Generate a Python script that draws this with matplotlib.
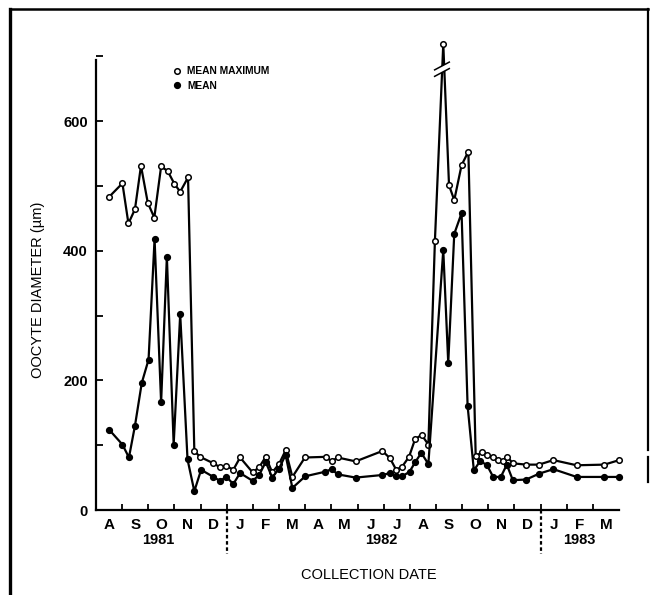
import matplotlib
matplotlib.use("Agg")
import matplotlib.pyplot as plt
from matplotlib.lines import Line2D
import matplotlib.transforms as mtransforms
import numpy as np

plt.rcParams['font.family'] = ['Liberation Sans', 'DejaVu Sans']

# months since 1 Aug 1981
max_dates = [0.50, 1.01, 1.24, 1.49, 1.72, 1.98, 2.23, 2.49, 2.74, 3.00, 3.22, 3.52,
             3.76, 3.98, 4.49, 4.74, 4.99, 5.25, 5.51, 5.99, 6.24, 6.49, 6.74, 7.00,
             7.25, 7.51, 7.99, 8.78, 9.01, 9.24, 9.93, 10.95, 11.24, 11.48, 11.71,
             11.97, 12.20, 12.45, 12.71, 12.96, 13.28, 13.50, 13.70, 13.98, 14.24,
             14.52, 14.75, 14.96, 15.19, 15.38, 15.55, 15.73, 15.94, 16.45, 16.94,
             17.49, 18.38, 19.44, 20.01]
mean_max = [483, 504, 442, 464, 531, 474, 451, 530, 523, 503, 491, 513,
            91, 82, 72, 66, 68, 62, 81, 58, 66, 82, 58, 71,
            92, 51, 81, 82, 75, 81, 75, 91, 80, 62, 67,
            82, 109, 116, 101, 415, 719, 501, 478, 532, 553,
            83, 89, 85, 81, 77, 75, 82, 72, 70, 70,
            77, 69, 70, 77]

mean_dates = [0.50, 1.01, 1.26, 1.49, 1.75, 2.01, 2.24, 2.49, 2.71, 2.97, 3.22, 3.50,
              3.76, 4.02, 4.49, 4.74, 4.99, 5.25, 5.51, 5.99, 6.24, 6.49, 6.74, 7.00,
              7.25, 7.51, 8.00, 8.76, 9.01, 9.24, 9.93, 10.95, 11.24, 11.48, 11.71,
              11.99, 12.21, 12.44, 12.71, 13.28, 13.47, 13.70, 13.98, 14.21,
              14.45, 14.68, 14.94, 15.19, 15.48, 15.71, 15.94, 16.45, 16.94,
              17.49, 18.38, 19.44, 20.01]
mean_vals = [124, 101, 81, 130, 196, 232, 418, 166, 391, 101, 302, 78,
             29, 62, 51, 45, 51, 40, 57, 45, 54, 74, 50, 64,
             85, 34, 52, 59, 63, 55, 50, 54, 57, 52, 52,
             59, 74, 88, 71, 401, 227, 426, 458, 161,
             61, 75, 70, 51, 51, 70, 46, 47, 56,
             63, 51, 51, 51]

month_labels = ['A', 'S', 'O', 'N', 'D', 'J', 'F', 'M', 'A', 'M', 'J', 'J',
                'A', 'S', 'O', 'N', 'D', 'J', 'F', 'M']
years = ['1981', '1982', '1983']
year_pos = [2.37, 10.9, 18.48]
year_breaks = [5, 17]
y_ticks = [0, 200, 400, 600]

W, H = 651, 595
fig = plt.figure(figsize=(W / 100, H / 100), dpi=100)
ax = fig.add_axes([96 / W, 1 - 510 / H, 523 / W, 468 / H])
ax.set_xlim(0, 20)
ax.set_ylim(0, 722)

lw = 1.6
ax.plot(max_dates, mean_max, color='black', lw=lw, marker='o', ms=4,
        mfc='white', mec='black', mew=1.1, clip_on=False, zorder=3,
        label='MEAN MAXIMUM')
ax.plot(mean_dates, mean_vals, color='black', lw=lw, marker='o', ms=4.2,
        mfc='black', mec='black', clip_on=False, zorder=3, label='MEAN')

# axis break marks on the peak
pk = int(np.argmax(mean_max))
bx = max_dates[pk] - 0.05
by = 676
ax.plot([bx - 0.28, bx + 0.28], [by - 2, by + 10], color='white', lw=4, zorder=4, clip_on=False)
ax.plot([bx - 0.28, bx + 0.28], [by - 7, by + 5], color='black', lw=1.1, zorder=5, clip_on=False)
ax.plot([bx - 0.28, bx + 0.28], [by + 3, by + 15], color='black', lw=1.1, zorder=5, clip_on=False)

for s in ['top', 'right']:
    ax.spines[s].set_visible(False)
ax.spines['left'].set_bounds(0, 694)
ax.spines['left'].set_linewidth(1.6)
ax.spines['bottom'].set_linewidth(1.6)

ax.set_yticks(y_ticks)
ax.set_yticks(np.arange(100, 701, 200), minor=True)
ax.tick_params(axis='y', which='both', direction='in', length=5, width=1.3)
ax.tick_params(axis='y', which='major', labelsize=10.5, pad=6)
for t in ax.get_yticklabels():
    t.set_fontweight('bold')

ax.set_xticks(np.arange(1, 20))
ax.set_xticklabels([])
ax.set_xticks(np.arange(20) + 0.5, minor=True)
ax.set_xticklabels(month_labels, minor=True, fontsize=11, fontweight='bold')
ax.tick_params(axis='x', which='major', direction='in', length=4.5, width=1.3)
ax.tick_params(axis='x', which='minor', length=0, pad=6)

trans = mtransforms.blended_transform_factory(ax.transData, ax.transAxes)
for xb in year_breaks:
    ax.plot([xb, xb], [0.0, -0.093], transform=trans, color='black', lw=1.6,
            linestyle=(0, (1.6, 1.2)), clip_on=False)
for yl, yp in zip(years, year_pos):
    ax.text(yp, -0.064, yl, transform=trans, ha='center', va='center',
            fontsize=10.5, fontweight='bold')

ax.text(0.522, -0.139, 'COLLECTION DATE', transform=ax.transAxes, ha='center',
        va='center', fontsize=10.5)
ax.set_ylabel('OOCYTE DIAMETER (µm)', fontsize=10.5)
ax.yaxis.set_label_coords(-0.097, 0.47)

leg = ax.legend(loc='upper left', bbox_to_anchor=(170 / W, 1 - 61 / H),
                bbox_transform=fig.transFigure, frameon=False, handlelength=0.3,
                handletextpad=0.9, labelspacing=0.45, borderpad=0,
                prop={'size': 7.4, 'weight': 'bold'})
for h in leg.legend_handles:
    h.set_linestyle('None')

# outer frame
def fl(x0, y0, x1, y1, w):
    fig.add_artist(Line2D([x0 / W, x1 / W], [1 - y0 / H, 1 - y1 / H], color='black', lw=w))
fl(10, 9, 10, 595, 2.4)
fl(10, 9, 648, 9, 1.8)
fl(648, 9, 648, 450, 1.6)
fl(648, 457, 648, 482, 1.6)

fig.savefig('out.png', dpi=100)
